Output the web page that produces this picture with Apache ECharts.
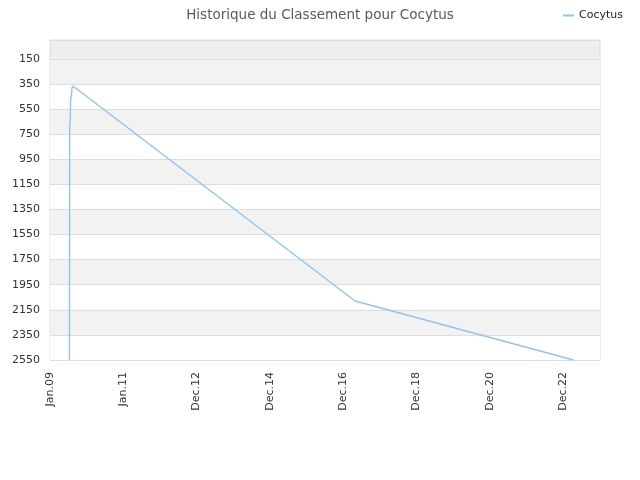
<!DOCTYPE html>
<html>
<head>
<meta charset="utf-8">
<script src="https://cdn.jsdelivr.net/npm/echarts@6/dist/echarts.min.js"></script>
<style>
    html, body { margin: 0; padding: 0; background: #fff; }
    #chart { width: 640px; height: 480px; }
</style>
</head>
<body>
<div id="chart"></div>
<script>
// rank history (dates, ranks)
var dates = ['2009-07-14', '2009-07-16', '2009-07-22', '2009-07-26', '2009-08-03',
             '2009-08-08', '2009-08-18', '2009-09-04', '2017-04-27', '2023-04-12'];
var ranks = [2550, 700, 620, 462, 440, 383, 367, 355, 2080, 2550];
var rankTicks = [150, 350, 550, 750, 950, 1150, 1350, 1550, 1750, 1950, 2150, 2350, 2550];
var monthNames = ['Jan', 'Feb', 'Mar', 'Apr', 'May', 'Jun', 'Jul', 'Aug', 'Sep', 'Oct', 'Nov', 'Dec'];

var DAY = 86400000;
var xStart = Date.UTC(2009, 0, 1);
var xEnd = Date.UTC(2024, 0, 1);

function toTime(s){
    var p = s.split('-');
    return Date.UTC(+p[0], +p[1] - 1, +p[2]);
}

var points = [];
for(var i = 0; i < dates.length; i++){
    points.push([toTime(dates[i]), ranks[i]]);
}

var chart = echarts.init(document.getElementById('chart'));

var option = {
    animation: false,
    textStyle: { fontFamily: 'DejaVu Sans' },
    title: {
        text: 'Historique du Classement pour Cocytus',
        left: 'center',
        top: 3,
        textStyle: { fontSize: 13.5, fontWeight: 'normal', color: '#5a5a5a' }
    },
    legend: {
        right: 12,
        top: 5,
        icon: 'rect',
        itemWidth: 11,
        itemHeight: 2,
        itemGap: 8,
        textStyle: { fontSize: 11, color: '#222' },
        data: ['Cocytus']
    },
    grid: {
        left: 50,
        right: 40,
        top: 40,
        bottom: 120,
        show: true,
        backgroundColor: '#eeeeee',
        borderColor: '#dddddd',
        borderWidth: 1
    },
    xAxis: {
        type: 'value',
        min: xStart,
        max: xEnd,
        interval: 730 * DAY,
        axisLine: { show: true, lineStyle: { color: '#dddddd' } },
        axisTick: { show: false },
        splitLine: { show: false },
        axisLabel: {
            rotate: 90,
            margin: 12,
            fontSize: 11,
            color: '#333',
            showMaxLabel: false,
            formatter: function(v){
                var d = new Date(v);
                var yy = String(d.getUTCFullYear() % 100);
                if(yy.length < 2) yy = '0' + yy;
                return monthNames[d.getUTCMonth()] + '.' + yy;
            }
        }
    },
    yAxis: {
        type: 'value',
        inverse: true,
        min: 0,
        max: 2550,
        axisLine: { show: false },
        axisTick: { show: false, customValues: rankTicks },
        axisLabel: {
            customValues: rankTicks,
            margin: 10,
            fontSize: 11,
            color: '#333',
            formatter: function(v){ return String(v); }
        },
        splitLine: { show: true, lineStyle: { color: '#dddddd' } },
        splitArea: { show: true, areaStyle: { color: ['#f2f2f2', '#ffffff'] } }
    },
    series: [
        {
            name: 'Cocytus',
            type: 'line',
            data: points,
            showSymbol: false,
            symbol: 'none',
            lineStyle: { color: '#90c3f5', width: 1.4 },
            itemStyle: { color: '#90c3f5' }
        }
    ]
};

chart.setOption(option);
</script>
</body>
</html>
